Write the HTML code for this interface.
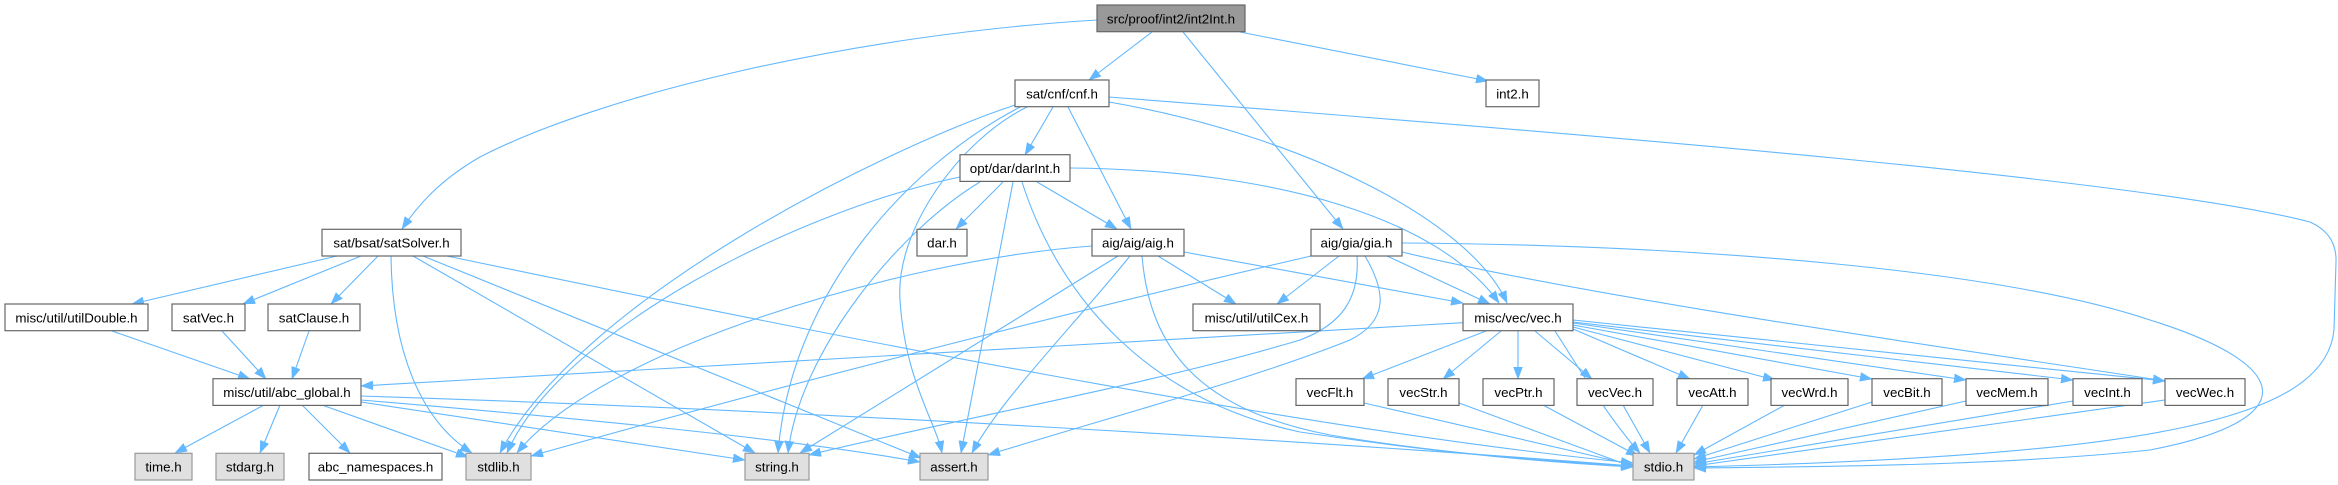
<!DOCTYPE html>
<html><head><meta charset="utf-8"><style>
html,body{margin:0;padding:0;background:#fff;}
svg{display:block;}
text{font-family:"Liberation Sans",Arial,sans-serif;font-size:13.33px;fill:#000;text-anchor:middle;}
.e{fill:none;stroke:#63b8ff;stroke-width:1.1;marker-end:url(#a);}
.w{fill:#fff;stroke:#666;stroke-width:1.2;}
.g{fill:#e0e0e0;stroke:#999;stroke-width:1.2;}
.r{fill:#999;stroke:#666;stroke-width:1.2;}
</style></head><body>
<svg width="2338" height="485" viewBox="0 0 2338 485" xmlns="http://www.w3.org/2000/svg">
<defs>
<marker id="a" markerUnits="userSpaceOnUse" markerWidth="13" markerHeight="10" refX="12" refY="4.5" orient="auto">
<path d="M0,0 L12,4.5 L0,9 z" fill="#63b8ff" stroke="#63b8ff" stroke-width="0.5"/>
</marker>
</defs>
<g>
<path class="e" d="M1097,20 C 850,35 600,95 480,157 C 440,180 418,205 402,229"/>
<path class="e" d="M1152,32 L1089,80"/>
<path class="e" d="M1240,32 L1488,81"/>
<path class="e" d="M1183,32 L1343,229"/>
<path class="e" d="M1053,107 L1025,155"/>
<path class="e" d="M1068,107 L1131,229"/>
<path class="e" d="M1109,102 C 1300,135 1470,220 1507,303"/>
<path class="e" d="M1109,97 C 1600,135 2150,180 2310,222 Q 2337,234 2336,262 L 2334,330 C 2325,420 2150,455 1694,467"/>
<path class="e" d="M1015,105 C 880,150 580,300 500,453"/>
<path class="e" d="M1020,107 C 900,170 790,300 778,453"/>
<path class="e" d="M1027,107 C 960,140 895,230 900,300 C 905,380 935,420 942,453"/>
<path class="e" d="M1003,182 L956,229"/>
<path class="e" d="M1037,182 L1117,229"/>
<path class="e" d="M1070,168 C 1280,170 1440,220 1499,303"/>
<path class="e" d="M960,177 C 800,210 560,330 507,453"/>
<path class="e" d="M980,182 C 900,230 800,350 788,453"/>
<path class="e" d="M1013,182 L961,453"/>
<path class="e" d="M1022,182 C 1060,300 1150,400 1300,432 C 1450,455 1560,463 1633,467"/>
<path class="e" d="M337,256 L132,304"/>
<path class="e" d="M361,256 L243,304"/>
<path class="e" d="M378,256 L331,304"/>
<path class="e" d="M391,256 C 392,350 420,420 472,453"/>
<path class="e" d="M413,256 L755,453"/>
<path class="e" d="M423,256 L921,458"/>
<path class="e" d="M447,256 C 800,330 1300,430 1633,463"/>
<path class="e" d="M1158,256 L1236,304"/>
<path class="e" d="M1184,252 L1463,303"/>
<path class="e" d="M1092,246 C 900,260 600,350 517,453"/>
<path class="e" d="M1118,256 L800,453"/>
<path class="e" d="M1130,256 C 1070,330 1000,400 972,453"/>
<path class="e" d="M1142,256 C 1150,350 1200,410 1330,435 C 1450,455 1560,462 1633,466"/>
<path class="e" d="M1339,256 L1277,304"/>
<path class="e" d="M1387,256 L1490,304"/>
<path class="e" d="M1402,252 C 1600,300 2000,355 2165,381"/>
<path class="e" d="M1402,243 C 1700,245 2000,270 2150,320 C 2295,365 2305,420 2150,450 C 2000,466 1800,467 1694,468"/>
<path class="e" d="M1311,256 C 1100,305 800,380 531,456"/>
<path class="e" d="M1357,256 C 1360,300 1340,325 1300,340 C 1150,385 950,420 809,455"/>
<path class="e" d="M1365,256 C 1385,290 1390,320 1350,340 C 1250,380 1100,420 988,455"/>
<path class="e" d="M112,331 L250,379"/>
<path class="e" d="M222,331 L266,379"/>
<path class="e" d="M309,331 L292,379"/>
<path class="e" d="M1463,322.7 L361,386"/>
<path class="e" d="M1486,331 L1362,379"/>
<path class="e" d="M1501,331 L1443,379"/>
<path class="e" d="M1518,331 L1518,379"/>
<path class="e" d="M1535,331 L1592,379"/>
<path class="e" d="M1573,329 L1690,379"/>
<path class="e" d="M1573,327 L1775,380"/>
<path class="e" d="M1573,325 L1872,379"/>
<path class="e" d="M1573,323 L1966,380"/>
<path class="e" d="M1573,322 L2073,380"/>
<path class="e" d="M1573,320 L2165,381"/>
<path class="e" d="M1555,331 C 1580,370 1610,420 1640,453"/>
<path class="e" d="M264,405 L175,453"/>
<path class="e" d="M280,405 L260,453"/>
<path class="e" d="M302,405 L350,453"/>
<path class="e" d="M322,405 L468,457"/>
<path class="e" d="M361,402 L745,460"/>
<path class="e" d="M361,400 C 600,420 800,440 920,462"/>
<path class="e" d="M361,396 C 800,410 1300,440 1633,466"/>
<path class="e" d="M1364,403 L1633,465"/>
<path class="e" d="M1459,403 L1633,467"/>
<path class="e" d="M1543,405 L1638,456"/>
<path class="e" d="M1623,405 L1650,453"/>
<path class="e" d="M1703,405 L1676,453"/>
<path class="e" d="M1785,405 L1694,455"/>
<path class="e" d="M1872,402 L1694,459"/>
<path class="e" d="M1966,401 L1694,462"/>
<path class="e" d="M2073,401 L1694,464"/>
<path class="e" d="M2165,400 L1694,466"/>
</g>
<g>
<rect class="r" x="1097" y="5" width="148" height="26.7"/><text x="1171" y="23.3">src/proof/int2/int2Int.h</text>
<rect class="w" x="1015" y="80" width="94" height="26.7"/><text x="1062" y="98.3">sat/cnf/cnf.h</text>
<rect class="w" x="1486" y="80" width="53" height="26.7"/><text x="1512.5" y="98.3">int2.h</text>
<rect class="w" x="960" y="154.7" width="110" height="26.7"/><text x="1015" y="173">opt/dar/darInt.h</text>
<rect class="w" x="322" y="229.3" width="139" height="26.7"/><text x="391.5" y="247.6">sat/bsat/satSolver.h</text>
<rect class="w" x="917" y="229.3" width="50" height="26.7"/><text x="942" y="247.6">dar.h</text>
<rect class="w" x="1092" y="229.3" width="92" height="26.7"/><text x="1138" y="247.6">aig/aig/aig.h</text>
<rect class="w" x="1311" y="229.3" width="91" height="26.7"/><text x="1356.5" y="247.6">aig/gia/gia.h</text>
<rect class="w" x="5" y="304" width="143" height="26.7"/><text x="76.5" y="322.3">misc/util/utilDouble.h</text>
<rect class="w" x="172" y="304" width="73" height="26.7"/><text x="208.5" y="322.3">satVec.h</text>
<rect class="w" x="268" y="304" width="92" height="26.7"/><text x="314" y="322.3">satClause.h</text>
<rect class="w" x="1193" y="304" width="127" height="26.7"/><text x="1256.5" y="322.3">misc/util/utilCex.h</text>
<rect class="w" x="1463" y="304" width="110" height="26.7"/><text x="1518" y="322.3">misc/vec/vec.h</text>
<rect class="w" x="213" y="378.7" width="148" height="26.7"/><text x="287" y="397">misc/util/abc_global.h</text>
<rect class="w" x="1296" y="378.7" width="68" height="26.7"/><text x="1330" y="397">vecFlt.h</text>
<rect class="w" x="1388" y="378.7" width="71" height="26.7"/><text x="1423.5" y="397">vecStr.h</text>
<rect class="w" x="1483" y="378.7" width="71" height="26.7"/><text x="1518.5" y="397">vecPtr.h</text>
<rect class="w" x="1577" y="378.7" width="76" height="26.7"/><text x="1615" y="397">vecVec.h</text>
<rect class="w" x="1677" y="378.7" width="71" height="26.7"/><text x="1712.5" y="397">vecAtt.h</text>
<rect class="w" x="1771" y="378.7" width="77" height="26.7"/><text x="1809.5" y="397">vecWrd.h</text>
<rect class="w" x="1872" y="378.7" width="70" height="26.7"/><text x="1907" y="397">vecBit.h</text>
<rect class="w" x="1966" y="378.7" width="82" height="26.7"/><text x="2007" y="397">vecMem.h</text>
<rect class="w" x="2073" y="378.7" width="69" height="26.7"/><text x="2107.5" y="397">vecInt.h</text>
<rect class="w" x="2165" y="378.7" width="80" height="26.7"/><text x="2205" y="397">vecWec.h</text>
<rect class="g" x="135" y="453.3" width="57" height="26.7"/><text x="163.5" y="471.6">time.h</text>
<rect class="g" x="216" y="453.3" width="68" height="26.7"/><text x="250" y="471.6">stdarg.h</text>
<rect class="w" x="309" y="453.3" width="133" height="26.7"/><text x="375.5" y="471.6">abc_namespaces.h</text>
<rect class="g" x="466" y="453.3" width="65" height="26.7"/><text x="498.5" y="471.6">stdlib.h</text>
<rect class="g" x="745" y="453.3" width="64" height="26.7"/><text x="777" y="471.6">string.h</text>
<rect class="g" x="920" y="453.3" width="68" height="26.7"/><text x="954" y="471.6">assert.h</text>
<rect class="g" x="1633" y="453.3" width="61" height="26.7"/><text x="1663.5" y="471.6">stdio.h</text>
</g>
</svg>
</body></html>
